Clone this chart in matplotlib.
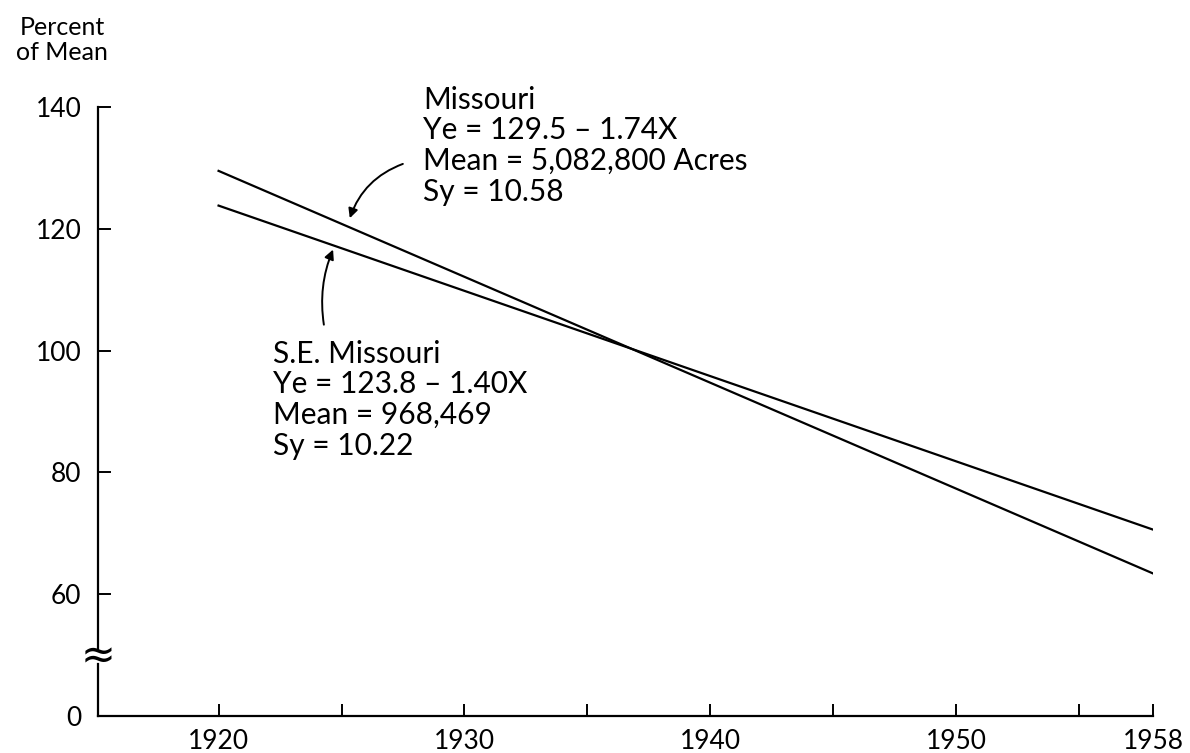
import numpy as np
import matplotlib.pyplot as plt

# Trend lines (percent of mean), read at the end years
years = [1920, 1958]
missouri = [129.5, 63.4]
se_missouri = [123.8, 70.6]

major_years = [1920, 1930, 1940, 1950, 1958]
minor_years = [1925, 1935, 1945, 1955]
y_ticks = [40, 60, 80, 100, 120, 140]   # 40 sits where the broken axis shows 0
y_labels = ['0', '60', '80', '100', '120', '140']

missouri_text = 'Missouri\nYe = 129.5 \u2013 1.74X\nMean = 5,082,800 Acres\nSy = 10.58'
se_text = 'S.E. Missouri\nYe = 123.8 \u2013 1.40X\nMean = 968,469\nSy = 10.22'

plt.rcParams['font.family'] = ['Lato', 'DejaVu Sans']

fig = plt.figure(figsize=(11.9, 7.53), dpi=100)
ax = fig.add_axes([0.0824, 0.0491, 0.969 - 0.0824, 0.858 - 0.0491])

ax.plot(years, missouri, color='black', lw=1.6)
ax.plot(years, se_missouri, color='black', lw=1.6)

ax.set_xlim(1915.1, 1958)
ax.set_ylim(40, 140)

ax.spines['top'].set_visible(False)
ax.spines['right'].set_visible(False)
ax.spines['left'].set_visible(False)
ax.spines['bottom'].set_linewidth(1.6)

# left axis drawn by hand with a break near the bottom
ax.plot([1915.1, 1915.1], [40, 48.6], color='black', lw=1.6, clip_on=False)
ax.plot([1915.1, 1915.1], [51.0, 140], color='black', lw=1.6, clip_on=False)
ax.text(1915.1, 49.8, '\u2248', ha='center', va='center', fontsize=30,
        family='DejaVu Sans')

ax.set_xticks(major_years)
ax.set_xticks(minor_years, minor=True)
ax.set_yticks(y_ticks)
ax.set_yticklabels(y_labels)
ax.tick_params(axis='both', which='both', direction='in', length=9, width=1.4,
               labelsize=19, color='black')
ax.tick_params(axis='x', pad=9)
ax.tick_params(axis='y', pad=12, left=False)
# y tick marks on the hand-drawn axis
for yt in y_ticks[1:]:
    ax.plot([1915.1, 1915.6], [yt, yt], color='black', lw=1.4, clip_on=False)

fig.text(0.052, 0.947, 'Percent\nof Mean', ha='center', va='center', fontsize=18,
         linespacing=1.1)

ax.text(1928.33, 143.5, missouri_text, ha='left', va='top', fontsize=21.5,
        linespacing=1.12)
ax.text(1922.2, 101.8, se_text, ha='left', va='top', fontsize=21.5,
        linespacing=1.12)

ax.annotate('', xy=(1925.3, 121.3), xytext=(1927.6, 130.8),
            arrowprops=dict(arrowstyle='-|>', color='black', lw=1.4,
                            connectionstyle='arc3,rad=0.25', mutation_scale=14))
ax.annotate('', xy=(1924.7, 117.0), xytext=(1924.3, 103.8),
            arrowprops=dict(arrowstyle='-|>', color='black', lw=1.4,
                            connectionstyle='arc3,rad=-0.15', mutation_scale=14))

fig.savefig('out.png', dpi=100)
